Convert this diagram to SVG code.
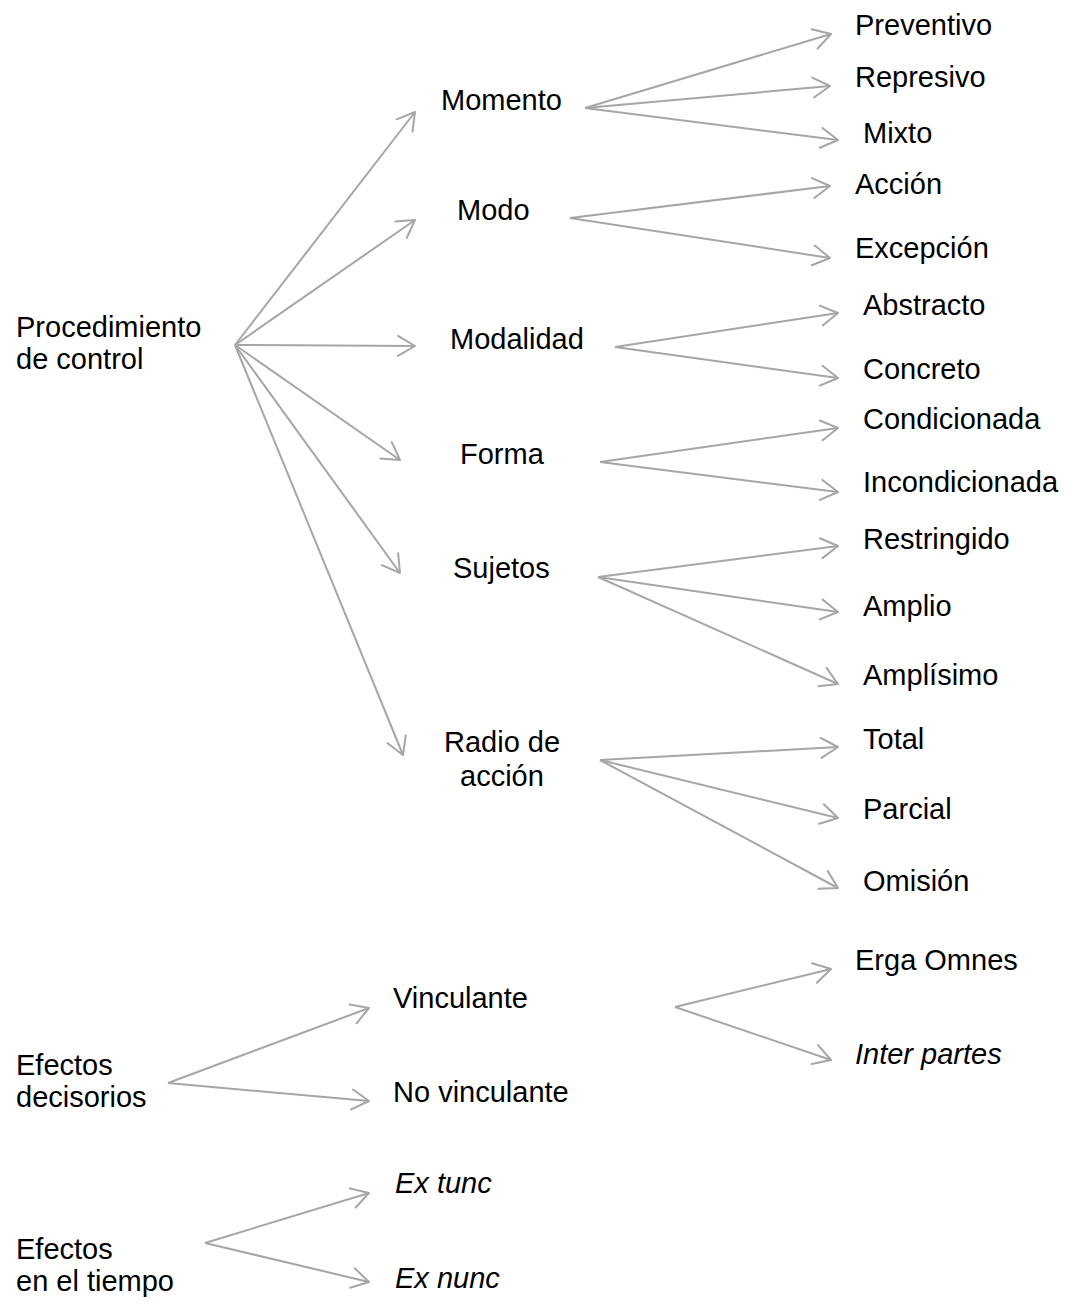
<svg xmlns="http://www.w3.org/2000/svg" width="1065" height="1304" viewBox="0 0 1065 1304">
<style>
text{font-family:"Liberation Sans",Arial,sans-serif;font-size:29px;fill:#000}
.it{font-style:italic}
.c line{stroke:#a6a6a6;stroke-width:2;fill:none;marker-end:url(#ah)}
</style>
<defs>
<marker id="ah" markerUnits="userSpaceOnUse" markerWidth="40" markerHeight="40" refX="0" refY="0" viewBox="-20 -20 40 40" orient="auto" overflow="visible">
<path d="M-17,-10 L0,0 L-17,10" fill="none" stroke="#a6a6a6" stroke-width="2" stroke-linecap="round" stroke-linejoin="round"/>
</marker>
</defs>
<rect width="1065" height="1304" fill="#fff"/>
<g class="c" id="connectors">
<line x1="235" y1="345" x2="415" y2="112"/>
<line x1="235" y1="345" x2="415" y2="220"/>
<line x1="235" y1="345" x2="415" y2="346"/>
<line x1="235" y1="345" x2="400" y2="460"/>
<line x1="235" y1="345" x2="400" y2="573"/>
<line x1="235" y1="345" x2="403" y2="755"/>
<line x1="585" y1="108" x2="831" y2="34"/>
<line x1="585" y1="108" x2="830" y2="86"/>
<line x1="585" y1="108" x2="838" y2="140"/>
<line x1="570" y1="218" x2="830" y2="186"/>
<line x1="570" y1="218" x2="830" y2="258"/>
<line x1="615" y1="347" x2="838" y2="313"/>
<line x1="615" y1="347" x2="838" y2="378"/>
<line x1="600" y1="462" x2="838" y2="428"/>
<line x1="600" y1="462" x2="838" y2="492"/>
<line x1="598" y1="577" x2="838" y2="546"/>
<line x1="598" y1="577" x2="838" y2="612"/>
<line x1="598" y1="577" x2="838" y2="684"/>
<line x1="600" y1="760" x2="838" y2="747"/>
<line x1="600" y1="760" x2="838" y2="818"/>
<line x1="600" y1="760" x2="838" y2="888"/>
<line x1="168" y1="1083" x2="369" y2="1008"/>
<line x1="168" y1="1083" x2="369" y2="1101"/>
<line x1="675" y1="1007" x2="831" y2="969"/>
<line x1="675" y1="1007" x2="831" y2="1060"/>
<line x1="205" y1="1243" x2="369" y2="1193"/>
<line x1="205" y1="1243" x2="369" y2="1282"/>
</g>
<g id="procedimiento"><text x="16" y="337">Procedimiento</text><text x="16" y="369">de control</text></g>
<g id="momento"><text x="441" y="110">Momento</text></g>
<g id="modo"><text x="457" y="220">Modo</text></g>
<g id="modalidad"><text x="450" y="349">Modalidad</text></g>
<g id="forma"><text x="460" y="464">Forma</text></g>
<g id="sujetos"><text x="453" y="578">Sujetos</text></g>
<g id="radio"><text x="444" y="752">Radio de</text><text x="460" y="786">acción</text></g>
<g id="preventivo"><text x="855" y="35">Preventivo</text></g>
<g id="represivo"><text x="855" y="87">Represivo</text></g>
<g id="mixto"><text x="863" y="143">Mixto</text></g>
<g id="accion"><text x="855" y="194">Acción</text></g>
<g id="excepcion"><text x="855" y="258">Excepción</text></g>
<g id="abstracto"><text x="863" y="315">Abstracto</text></g>
<g id="concreto"><text x="863" y="379">Concreto</text></g>
<g id="condicionada"><text x="863" y="429">Condicionada</text></g>
<g id="incondicionada"><text x="863" y="492">Incondicionada</text></g>
<g id="restringido"><text x="863" y="549">Restringido</text></g>
<g id="amplio"><text x="863" y="616">Amplio</text></g>
<g id="amplisimo"><text x="863" y="685">Amplísimo</text></g>
<g id="total"><text x="863" y="749">Total</text></g>
<g id="parcial"><text x="863" y="819">Parcial</text></g>
<g id="omision"><text x="863" y="891">Omisión</text></g>
<g id="efectos-decisorios"><text x="16" y="1075">Efectos</text><text x="16" y="1107">decisorios</text></g>
<g id="vinculante"><text x="393" y="1008">Vinculante</text></g>
<g id="no-vinculante"><text x="393" y="1102">No vinculante</text></g>
<g id="erga-omnes"><text x="855" y="970">Erga Omnes</text></g>
<g id="inter-partes"><text class="it" x="855" y="1064">Inter partes</text></g>
<g id="efectos-tiempo"><text x="16" y="1259">Efectos</text><text x="16" y="1291">en el tiempo</text></g>
<g id="ex-tunc"><text class="it" x="395" y="1193">Ex tunc</text></g>
<g id="ex-nunc"><text class="it" x="395" y="1288">Ex nunc</text></g>
</svg>
